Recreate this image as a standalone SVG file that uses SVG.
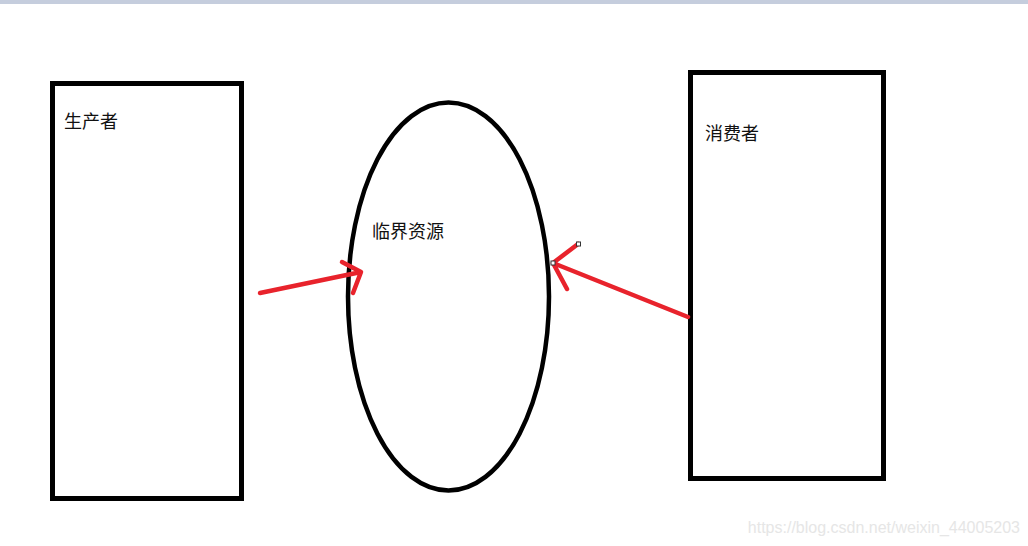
<svg xmlns="http://www.w3.org/2000/svg" width="1028" height="546" viewBox="0 0 1028 546">
<style>
.box{fill:none;stroke:#000;stroke-width:5}
.lbl{font-family:"Noto Sans CJK SC","Microsoft YaHei",sans-serif;font-size:18px;fill:#111}
.arr{fill:none;stroke:#e8232c;stroke-width:4.5;stroke-linecap:round;stroke-linejoin:round}
.h{fill:#fff;stroke:#333;stroke-width:1}
</style>
<rect x="0" y="0" width="1028" height="546" fill="#fff"/>
<rect x="0" y="0" width="1028" height="4" fill="#c5cddd"/>
<g id="producer">
<rect class="box" x="52.5" y="83.5" width="189" height="415"/>
<text class="lbl" x="64" y="128">生产者</text>
</g>
<g id="resource">
<ellipse class="box" cx="448.5" cy="296.5" rx="100.5" ry="194" style="stroke-width:4.5"/>
<text class="lbl" x="372" y="238">临界资源</text>
</g>
<g id="consumer">
<rect class="box" x="690.5" y="72.5" width="193" height="406"/>
<text class="lbl" x="705" y="140">消费者</text>
</g>
<g id="connectors">
<path class="arr" d="M260 293 L361 272 M342 262 L361 272 L353 293"/>
<path class="arr" d="M688 317 L553 263 M578 244 L553 263 L567 289"/>
<rect class="h" x="551" y="261" width="4" height="4"/>
<rect class="h" x="576.5" y="242" width="4" height="4"/>
</g>
<text x="1020" y="533" text-anchor="end" font-family="Liberation Sans, Arial, sans-serif" font-size="16" fill="#e6e6e6">https://blog.csdn.net/weixin_44005203</text>
</svg>
